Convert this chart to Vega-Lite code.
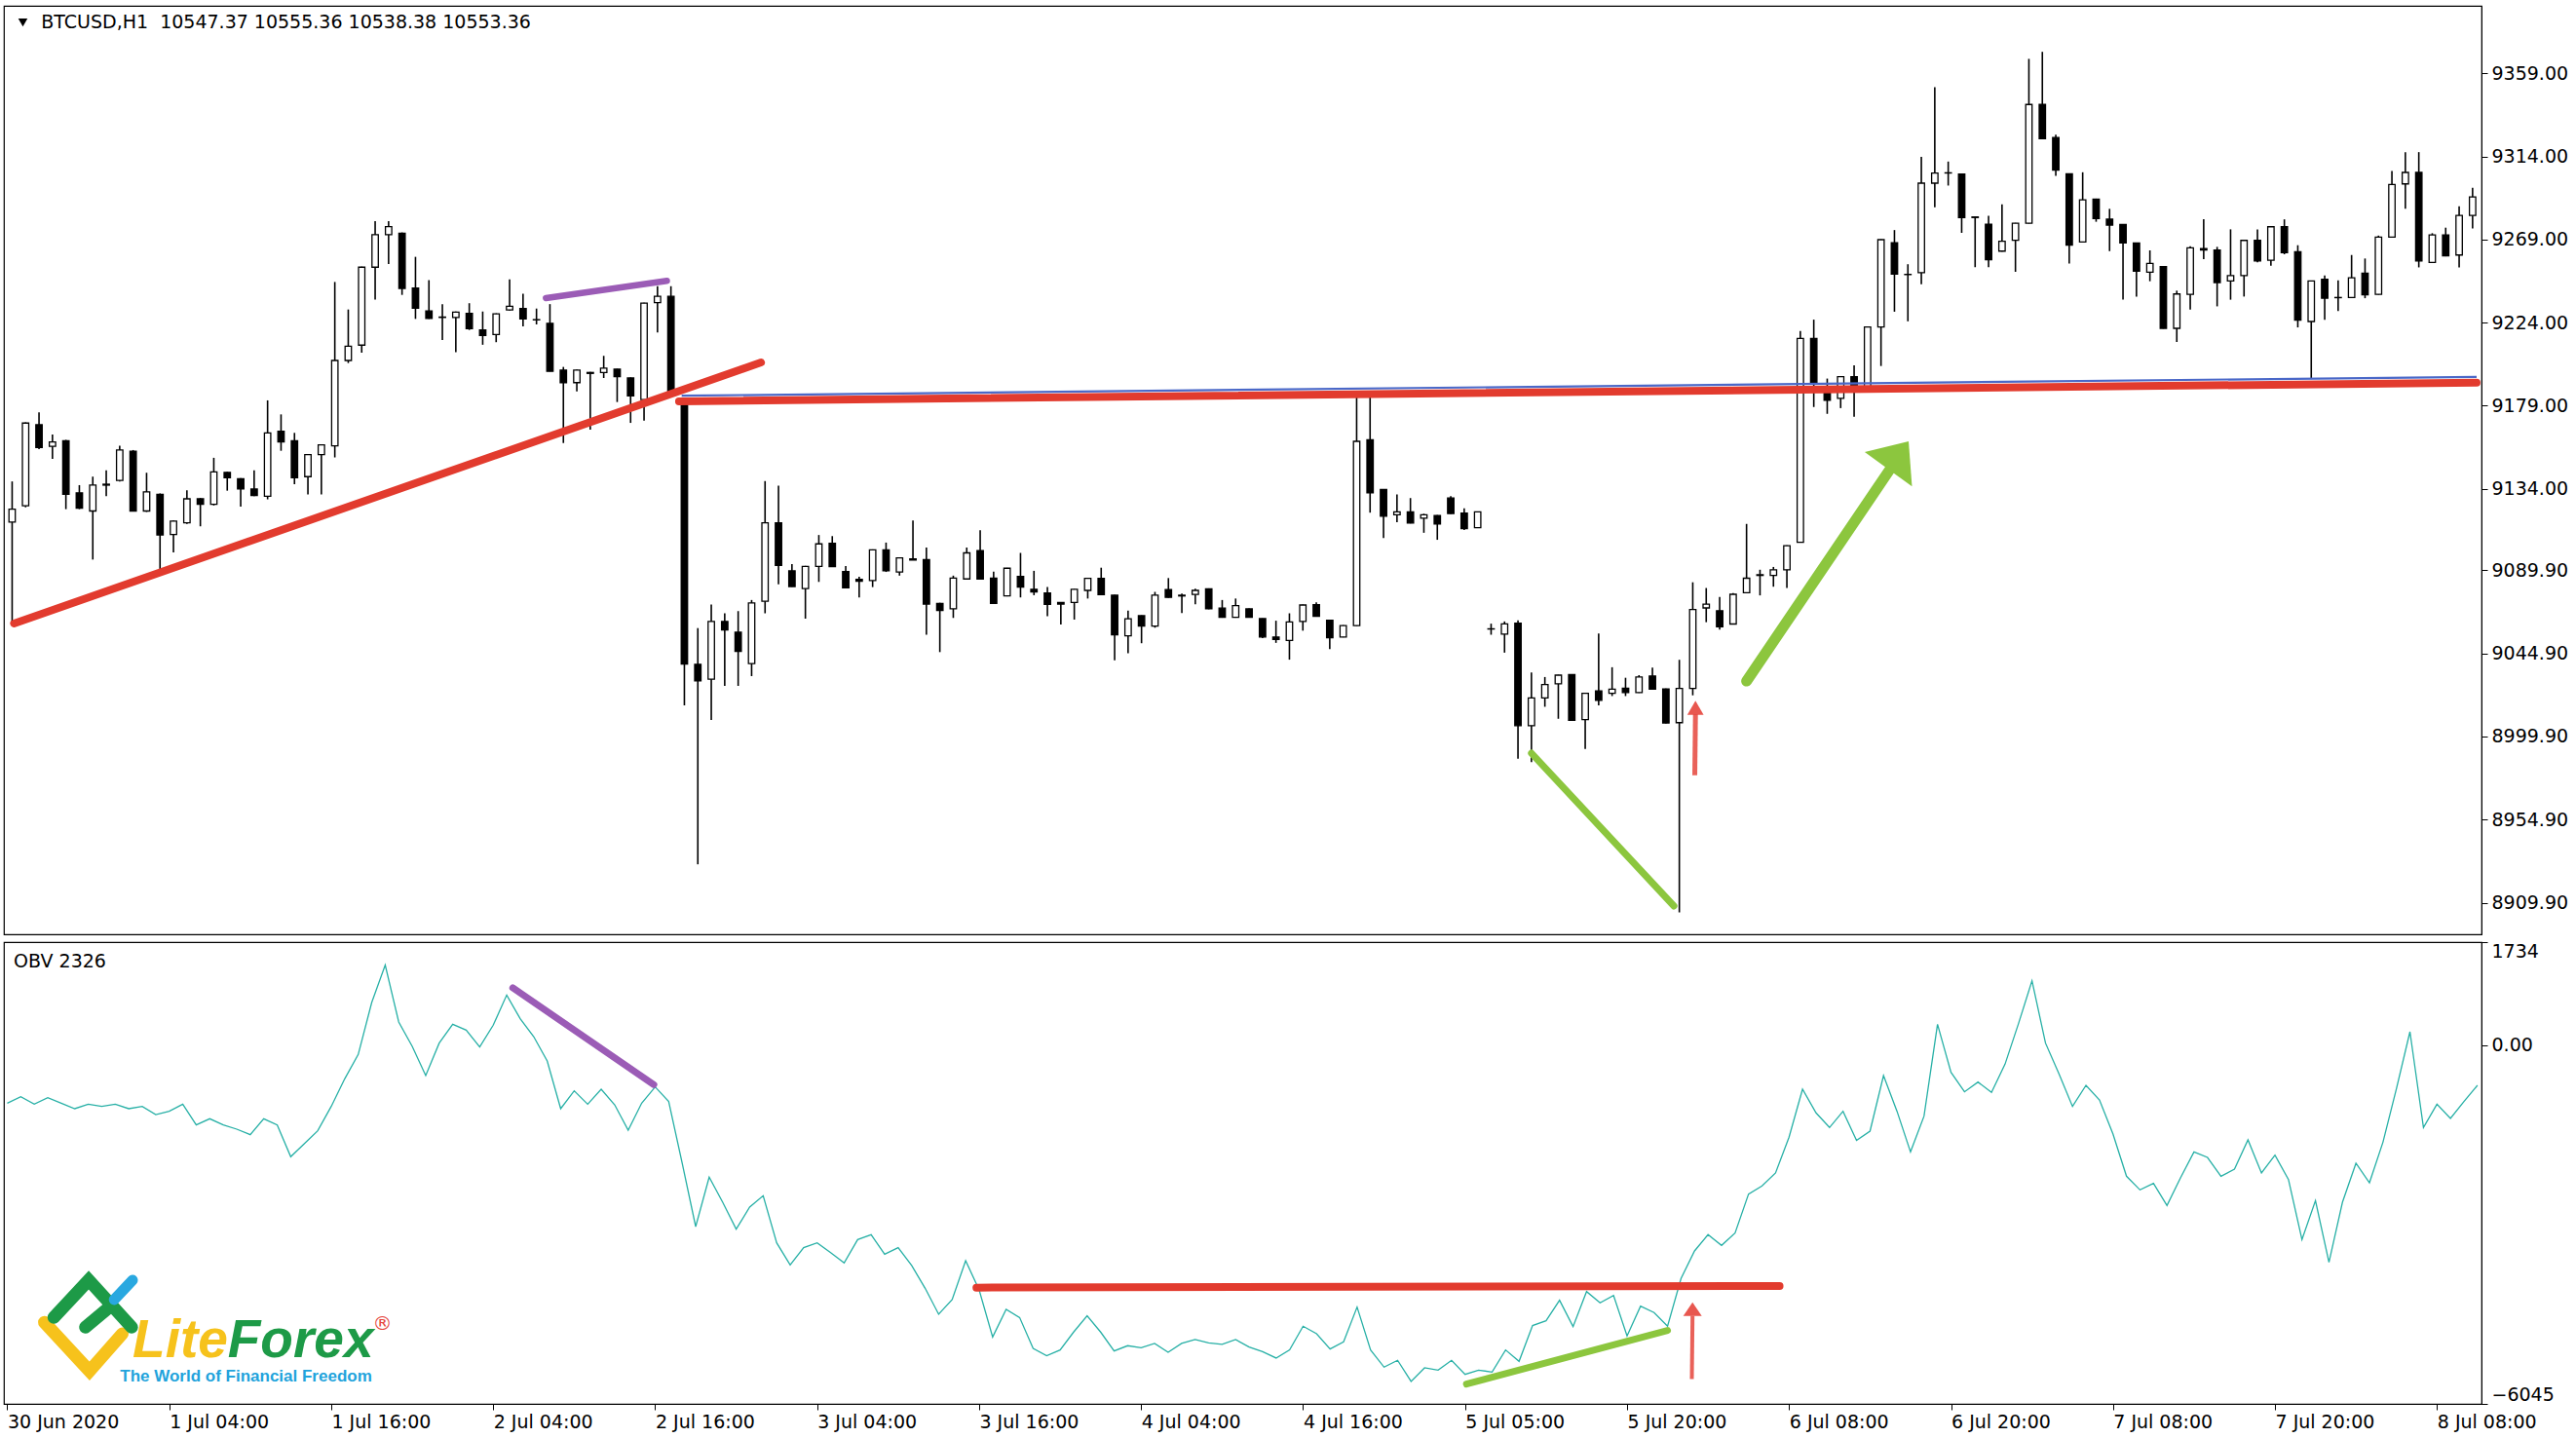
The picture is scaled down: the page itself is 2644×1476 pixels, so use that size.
{
  "$schema": "https://vega.github.io/schema/vega-lite/v6.json",
  "background": "#ffffff",
  "padding": {"left": 3, "top": 5, "right": 0, "bottom": 0},
  "spacing": 5,
  "config": {
    "view": {"stroke": "#000", "strokeWidth": 1.2},
    "axis": {"labelFont": "DejaVu Sans", "labelFontSize": 19, "labelColor": "#000", "domainColor": "#000", "tickColor": "#000", "grid": false},
    "text": {"font": "DejaVu Sans"}
  },
  "datasets": {
    "bars": [
      {"i":0,"o":9116,"h":9138,"l":9060,"c":9123,"v":-979},
      {"i":1,"o":9124.8,"h":9170,"l":9124,"c":9169.6,"v":-870},
      {"i":2,"o":9168.7,"h":9175.4,"l":9155.5,"c":9156.4,"v":-996},
      {"i":3,"o":9157,"h":9163.4,"l":9150.2,"c":9159.4,"v":-886},
      {"i":4,"o":9160,"h":9160.5,"l":9123,"c":9131,"v":-979},
      {"i":5,"o":9131.8,"h":9136,"l":9123,"c":9123.5,"v":-1072},
      {"i":6,"o":9122,"h":9140.6,"l":9095.7,"c":9136,"v":-996},
      {"i":7,"o":9136,"h":9144,"l":9130,"c":9136.5,"v":-1034},
      {"i":8,"o":9138.5,"h":9157.3,"l":9138,"c":9155,"v":-996},
      {"i":9,"o":9154.3,"h":9155,"l":9122,"c":9122,"v":-1072},
      {"i":10,"o":9122,"h":9142.7,"l":9121.5,"c":9132.3,"v":-1034},
      {"i":11,"o":9131,"h":9131.5,"l":9090.5,"c":9109,"v":-1171},
      {"i":12,"o":9109.3,"h":9116.8,"l":9099.6,"c":9116.5,"v":-1116},
      {"i":13,"o":9115.6,"h":9133.2,"l":9115,"c":9128.6,"v":-996},
      {"i":14,"o":9128.6,"h":9129,"l":9113.7,"c":9125.6,"v":-1346},
      {"i":15,"o":9125.6,"h":9150.8,"l":9125,"c":9143.2,"v":-1242},
      {"i":16,"o":9142.9,"h":9143.2,"l":9133,"c":9140,"v":-1346},
      {"i":17,"o":9139.4,"h":9139.8,"l":9124.4,"c":9133.9,"v":-1417},
      {"i":18,"o":9133.9,"h":9144,"l":9130,"c":9130.4,"v":-1510},
      {"i":19,"o":9130,"h":9181.9,"l":9128.3,"c":9164.3,"v":-1242},
      {"i":20,"o":9165.2,"h":9174.3,"l":9154.6,"c":9159.4,"v":-1346},
      {"i":21,"o":9160,"h":9164.3,"l":9136.5,"c":9140,"v":-1882},
      {"i":22,"o":9140.6,"h":9152.8,"l":9131,"c":9152.5,"v":-1663},
      {"i":23,"o":9152.5,"h":9158,"l":9131,"c":9157.8,"v":-1444},
      {"i":24,"o":9157.3,"h":9246,"l":9151,"c":9203.5,"v":-1034},
      {"i":25,"o":9203.5,"h":9231.1,"l":9202.1,"c":9211.2,"v":-569},
      {"i":26,"o":9211.8,"h":9254.3,"l":9207.7,"c":9254,"v":-159},
      {"i":27,"o":9254,"h":9278.9,"l":9236.4,"c":9271.6,"v":717},
      {"i":28,"o":9271.6,"h":9278.9,"l":9255.7,"c":9276,"v":1346},
      {"i":29,"o":9272.4,"h":9272.8,"l":9239,"c":9242.5,"v":388},
      {"i":30,"o":9242.7,"h":9259.6,"l":9226,"c":9231.8,"v":-22},
      {"i":31,"o":9230.3,"h":9247,"l":9226,"c":9226.2,"v":-514},
      {"i":32,"o":9227,"h":9234,"l":9214.6,"c":9226.8,"v":33},
      {"i":33,"o":9226.8,"h":9230,"l":9208,"c":9229.7,"v":350},
      {"i":34,"o":9229,"h":9234.5,"l":9220,"c":9220.7,"v":252},
      {"i":35,"o":9220,"h":9230,"l":9212,"c":9217,"v":-33},
      {"i":36,"o":9217.5,"h":9229,"l":9213.4,"c":9228.7,"v":334},
      {"i":37,"o":9230.9,"h":9247.4,"l":9230.5,"c":9232.8,"v":842},
      {"i":38,"o":9231.6,"h":9239.6,"l":9222,"c":9226,"v":443},
      {"i":39,"o":9225.6,"h":9231.6,"l":9223,"c":9225.5,"v":142},
      {"i":40,"o":9223.6,"h":9234,"l":9197.6,"c":9197.6,"v":-268},
      {"i":41,"o":9198.3,"h":9200,"l":9158.8,"c":9191.5,"v":-1072},
      {"i":42,"o":9191.5,"h":9198.6,"l":9186.7,"c":9198.3,"v":-771},
      {"i":43,"o":9197,"h":9197.3,"l":9166.1,"c":9196.5,"v":-996},
      {"i":44,"o":9197,"h":9206,"l":9194,"c":9199.3,"v":-744},
      {"i":45,"o":9198.8,"h":9199,"l":9181,"c":9194.7,"v":-1007},
      {"i":46,"o":9194,"h":9194.3,"l":9169.7,"c":9184.3,"v":-1433},
      {"i":47,"o":9182.3,"h":9234.7,"l":9170.9,"c":9234.5,"v":-979},
      {"i":48,"o":9234.8,"h":9243.7,"l":9218.7,"c":9238.2,"v":-706},
      {"i":49,"o":9238.2,"h":9243.7,"l":9185.5,"c":9185.5,"v":-952},
      {"i":50,"o":9179.4,"h":9179.6,"l":9016.8,"c":9039.1,"v":-1991},
      {"i":51,"o":9039,"h":9058.6,"l":8930.7,"c":9030,"v":-3058},
      {"i":52,"o":9030.9,"h":9071.4,"l":9008.8,"c":9062.2,"v":-2226},
      {"i":53,"o":9062.2,"h":9066.6,"l":9027.3,"c":9057.6,"v":-2648},
      {"i":54,"o":9056.4,"h":9067.8,"l":9027.3,"c":9046,"v":-3101},
      {"i":55,"o":9039.4,"h":9073.8,"l":9032.6,"c":9072.2,"v":-2730},
      {"i":56,"o":9073.1,"h":9138.2,"l":9066.6,"c":9115.6,"v":-2538},
      {"i":57,"o":9115.6,"h":9135.7,"l":9082.3,"c":9092.5,"v":-3331},
      {"i":58,"o":9089.6,"h":9093.3,"l":9081,"c":9081.1,"v":-3703},
      {"i":59,"o":9080,"h":9092.3,"l":9063.7,"c":9092,"v":-3413},
      {"i":60,"o":9092,"h":9109,"l":9083.6,"c":9104.2,"v":-3331},
      {"i":61,"o":9104.5,"h":9108.4,"l":9091.8,"c":9091.9,"v":-3496},
      {"i":62,"o":9089.2,"h":9092.2,"l":9080.4,"c":9080.4,"v":-3670},
      {"i":63,"o":9085,"h":9086.4,"l":9075.2,"c":9084,"v":-3277},
      {"i":64,"o":9084.3,"h":9101.2,"l":9080.8,"c":9101,"v":-3195},
      {"i":65,"o":9101,"h":9104.9,"l":9089,"c":9089.6,"v":-3523},
      {"i":66,"o":9089,"h":9096.8,"l":9087,"c":9096.6,"v":-3413},
      {"i":67,"o":9096.1,"h":9116.8,"l":9095.4,"c":9095.4,"v":-3714},
      {"i":68,"o":9095.7,"h":9102.2,"l":9055,"c":9071.6,"v":-4097},
      {"i":69,"o":9072,"h":9072.3,"l":9045.6,"c":9068.1,"v":-4535},
      {"i":70,"o":9069,"h":9087,"l":9064.1,"c":9085.7,"v":-4289},
      {"i":71,"o":9085.2,"h":9102.2,"l":9085,"c":9099.3,"v":-3632},
      {"i":72,"o":9100.5,"h":9111.6,"l":9085,"c":9085.2,"v":-4125},
      {"i":73,"o":9085.7,"h":9089.2,"l":9071.6,"c":9072,"v":-4918},
      {"i":74,"o":9076,"h":9091.2,"l":9075.8,"c":9091,"v":-4453},
      {"i":75,"o":9086.6,"h":9099.3,"l":9075.2,"c":9080.8,"v":-4590},
      {"i":76,"o":9079.6,"h":9089.6,"l":9076.4,"c":9078.2,"v":-5109},
      {"i":77,"o":9077.6,"h":9080.8,"l":9065,"c":9071.5,"v":-5235},
      {"i":78,"o":9072.5,"h":9072.7,"l":9060.6,"c":9071.6,"v":-5136},
      {"i":79,"o":9072.5,"h":9079.8,"l":9063.2,"c":9079.6,"v":-4835},
      {"i":80,"o":9079,"h":9085.7,"l":9074.6,"c":9085.5,"v":-4562},
      {"i":81,"o":9085.5,"h":9091.3,"l":9076.5,"c":9076.7,"v":-4835},
      {"i":82,"o":9076.4,"h":9076.6,"l":9041.2,"c":9055,"v":-5153},
      {"i":83,"o":9054.4,"h":9068,"l":9045,"c":9063.6,"v":-5065},
      {"i":84,"o":9065.3,"h":9065.5,"l":9050.4,"c":9059.7,"v":-5098},
      {"i":85,"o":9059.7,"h":9078.2,"l":9058.8,"c":9076.4,"v":-5027},
      {"i":86,"o":9079.4,"h":9085.7,"l":9075,"c":9075.2,"v":-5175},
      {"i":87,"o":9076.4,"h":9077.3,"l":9066.7,"c":9076,"v":-5027},
      {"i":88,"o":9076.8,"h":9079.9,"l":9071.5,"c":9079,"v":-4961},
      {"i":89,"o":9079.9,"h":9080.1,"l":9068.8,"c":9069,"v":-5016},
      {"i":90,"o":9069.4,"h":9073.8,"l":9064.2,"c":9064.4,"v":-5043},
      {"i":91,"o":9064.4,"h":9074.6,"l":9064.2,"c":9070.8,"v":-4961},
      {"i":92,"o":9069,"h":9069.2,"l":9064.2,"c":9064.4,"v":-5087},
      {"i":93,"o":9063.7,"h":9063.9,"l":9053.2,"c":9053.8,"v":-5164},
      {"i":94,"o":9053.8,"h":9062.6,"l":9050.6,"c":9052.4,"v":-5273},
      {"i":95,"o":9051.9,"h":9066.6,"l":9041.5,"c":9061.9,"v":-5136},
      {"i":96,"o":9062.2,"h":9071.3,"l":9057.2,"c":9071.1,"v":-4737},
      {"i":97,"o":9071.3,"h":9072.6,"l":9064.7,"c":9065,"v":-4863},
      {"i":98,"o":9062.8,"h":9063,"l":9047.2,"c":9053.4,"v":-5120},
      {"i":99,"o":9053.8,"h":9060.2,"l":9053.6,"c":9060,"v":-5000},
      {"i":100,"o":9060,"h":9183.6,"l":9059.8,"c":9159.7,"v":-4414},
      {"i":101,"o":9160.6,"h":9183.6,"l":9121.1,"c":9131.8,"v":-5136},
      {"i":102,"o":9133.7,"h":9133.9,"l":9107.4,"c":9119.2,"v":-5426},
      {"i":103,"o":9120,"h":9130.9,"l":9115.9,"c":9121.5,"v":-5311},
      {"i":104,"o":9121.5,"h":9129,"l":9115.3,"c":9115.5,"v":-5667},
      {"i":105,"o":9118.1,"h":9120.5,"l":9110.2,"c":9120,"v":-5437},
      {"i":106,"o":9119.6,"h":9119.8,"l":9106.4,"c":9114.9,"v":-5476},
      {"i":107,"o":9129,"h":9130,"l":9120.4,"c":9120.6,"v":-5311},
      {"i":108,"o":9120.9,"h":9123.4,"l":9111.7,"c":9112.5,"v":-5547},
      {"i":109,"o":9113,"h":9121.7,"l":9112.8,"c":9121.5,"v":-5476},
      {"i":110,"o":9058.1,"h":9061,"l":9055,"c":9058.2,"v":-5508},
      {"i":111,"o":9055.3,"h":9062.2,"l":9045.3,"c":9060.9,"v":-5136},
      {"i":112,"o":9061.3,"h":9062.8,"l":8987.9,"c":9005.8,"v":-5328},
      {"i":113,"o":9005.8,"h":9034.6,"l":8986,"c":9020.8,"v":-4726},
      {"i":114,"o":9020.8,"h":9032.1,"l":9016,"c":9028,"v":-4644},
      {"i":115,"o":9028.4,"h":9033.3,"l":9009.5,"c":9033.1,"v":-4299},
      {"i":116,"o":9033.4,"h":9033.6,"l":9008.4,"c":9008.6,"v":-4743},
      {"i":117,"o":9009,"h":9023.5,"l":8993.2,"c":9023.3,"v":-4152},
      {"i":118,"o":9024.6,"h":9055.6,"l":9016.7,"c":9019.5,"v":-4343},
      {"i":119,"o":9023.3,"h":9037.4,"l":9021.8,"c":9025.5,"v":-4218},
      {"i":120,"o":9026.1,"h":9031.7,"l":9021.8,"c":9023.7,"v":-4901},
      {"i":121,"o":9023.7,"h":9033.1,"l":9023.5,"c":9032.1,"v":-4398},
      {"i":122,"o":9032.7,"h":9037.2,"l":9025.3,"c":9025.5,"v":-4507},
      {"i":123,"o":9025.7,"h":9025.9,"l":9007,"c":9007.2,"v":-4737},
      {"i":124,"o":9007.4,"h":9041.4,"l":8904.7,"c":9025.9,"v":-3933},
      {"i":125,"o":9025.9,"h":9083.4,"l":9022.2,"c":9068.6,"v":-3468},
      {"i":126,"o":9069.5,"h":9080.3,"l":9061.8,"c":9071.6,"v":-3194},
      {"i":127,"o":9068,"h":9075.4,"l":9057.8,"c":9059.3,"v":-3375},
      {"i":128,"o":9060.8,"h":9077.5,"l":9060.6,"c":9076.9,"v":-3167},
      {"i":129,"o":9077.8,"h":9115,"l":9077.6,"c":9085.6,"v":-2511},
      {"i":130,"o":9087.1,"h":9090.2,"l":9076.3,"c":9087.5,"v":-2374},
      {"i":131,"o":9087.1,"h":9091.7,"l":9081,"c":9090.2,"v":-2155},
      {"i":132,"o":9090.2,"h":9103.4,"l":9080.3,"c":9103.2,"v":-1553},
      {"i":133,"o":9105,"h":9219.4,"l":9104.8,"c":9215.4,"v":-744},
      {"i":134,"o":9215.4,"h":9225.6,"l":9178.3,"c":9191.6,"v":-1143},
      {"i":135,"o":9187,"h":9193.7,"l":9174.6,"c":9182,"v":-1389},
      {"i":136,"o":9183,"h":9194.9,"l":9177.7,"c":9194.7,"v":-1116},
      {"i":137,"o":9194.7,"h":9200.9,"l":9173,"c":9189.1,"v":-1608},
      {"i":138,"o":9189.1,"h":9221.8,"l":9188.9,"c":9221.6,"v":-1450},
      {"i":139,"o":9221.6,"h":9269.1,"l":9200.5,"c":9268.9,"v":-514},
      {"i":140,"o":9267.3,"h":9274.1,"l":9229.9,"c":9250.3,"v":-1116},
      {"i":141,"o":9250.1,"h":9255.6,"l":9224.7,"c":9250,"v":-1800},
      {"i":142,"o":9251,"h":9313.7,"l":9244.8,"c":9299.5,"v":-1198},
      {"i":143,"o":9299.5,"h":9351.4,"l":9286.5,"c":9305,"v":350},
      {"i":144,"o":9305,"h":9311.2,"l":9298.2,"c":9305.1,"v":-460},
      {"i":145,"o":9304.4,"h":9304.6,"l":9272.6,"c":9280.9,"v":-788},
      {"i":146,"o":9281.2,"h":9281.4,"l":9254,"c":9280.9,"v":-624},
      {"i":147,"o":9277.2,"h":9281.8,"l":9254,"c":9258,"v":-799},
      {"i":148,"o":9262.7,"h":9288,"l":9262.5,"c":9268,"v":-323},
      {"i":149,"o":9268.6,"h":9278,"l":9251.5,"c":9277.8,"v":361},
      {"i":150,"o":9277.8,"h":9366.8,"l":9277.6,"c":9342.1,"v":1083},
      {"i":151,"o":9342.1,"h":9370.6,"l":9323.4,"c":9323.6,"v":33},
      {"i":152,"o":9324.2,"h":9325.7,"l":9303.5,"c":9306.6,"v":-487},
      {"i":153,"o":9304.5,"h":9304.7,"l":9256,"c":9265.9,"v":-1034},
      {"i":154,"o":9267.7,"h":9305.4,"l":9267.5,"c":9290.5,"v":-678},
      {"i":155,"o":9290.9,"h":9291.1,"l":9278.6,"c":9280.3,"v":-925},
      {"i":156,"o":9280,"h":9285.6,"l":9262.7,"c":9276.8,"v":-1499},
      {"i":157,"o":9277.1,"h":9277.3,"l":9236.4,"c":9267.1,"v":-2210},
      {"i":158,"o":9267.1,"h":9267.3,"l":9238.1,"c":9251.8,"v":-2440},
      {"i":159,"o":9251.3,"h":9263.1,"l":9246.4,"c":9256,"v":-2330},
      {"i":160,"o":9254.3,"h":9254.5,"l":9220.7,"c":9220.9,"v":-2702},
      {"i":161,"o":9220.9,"h":9241.3,"l":9213.5,"c":9239.5,"v":-2237},
      {"i":162,"o":9239.3,"h":9265.4,"l":9231.1,"c":9264.5,"v":-1800},
      {"i":163,"o":9264.1,"h":9280,"l":9258.3,"c":9263.3,"v":-1893},
      {"i":164,"o":9263.3,"h":9265,"l":9232.8,"c":9245.7,"v":-2210},
      {"i":165,"o":9246.6,"h":9274.5,"l":9236.4,"c":9249.5,"v":-2090},
      {"i":166,"o":9249.5,"h":9268.7,"l":9238.1,"c":9268.5,"v":-1597},
      {"i":167,"o":9268.5,"h":9274.5,"l":9256.6,"c":9257.4,"v":-2155},
      {"i":168,"o":9257.8,"h":9276.1,"l":9254.8,"c":9275.9,"v":-1854},
      {"i":169,"o":9275.9,"h":9279.9,"l":9261,"c":9261.8,"v":-2265},
      {"i":170,"o":9262.4,"h":9265.9,"l":9221.4,"c":9225.3,"v":-3277},
      {"i":171,"o":9224.6,"h":9246.7,"l":9193.8,"c":9246.5,"v":-2620},
      {"i":172,"o":9247.4,"h":9249.5,"l":9225.5,"c":9237.2,"v":-3660},
      {"i":173,"o":9237.6,"h":9246.9,"l":9230.2,"c":9237.5,"v":-2648},
      {"i":174,"o":9237.6,"h":9260.6,"l":9237.4,"c":9248.3,"v":-1991},
      {"i":175,"o":9250.8,"h":9258.7,"l":9237.2,"c":9239,"v":-2320},
      {"i":176,"o":9239.3,"h":9271.1,"l":9239.1,"c":9270.3,"v":-1636},
      {"i":177,"o":9270.3,"h":9306.1,"l":9270.1,"c":9298.8,"v":-733},
      {"i":178,"o":9299.1,"h":9316.3,"l":9285.6,"c":9305.3,"v":224},
      {"i":179,"o":9305.3,"h":9316.3,"l":9253.9,"c":9257.4,"v":-1389},
      {"i":180,"o":9256.6,"h":9272.4,"l":9256.4,"c":9271.5,"v":-996},
      {"i":181,"o":9271.5,"h":9275.4,"l":9259.9,"c":9260.1,"v":-1236},
      {"i":182,"o":9260.6,"h":9287,"l":9253.9,"c":9282,"v":-952},
      {"i":183,"o":9282,"h":9297,"l":9275,"c":9292,"v":-678}
    ]
  },
  "vconcat": [
    {
      "width": 2543,
      "height": 953,
      "encoding": {
        "x": {"type": "quantitative", "scale": {"domain": [-0.25, 183.3], "nice": false, "zero": false}, "axis": null},
        "y": {"type": "quantitative", "scale": {"domain": [8892.8, 9395.5], "nice": false, "zero": false},
          "axis": {"orient": "right", "title": null, "values": [9359, 9314, 9269, 9224, 9179, 9134, 9089.9, 9044.9, 8999.9, 8954.9, 8909.9], "format": ".2f", "tickSize": 6, "labelPadding": 4, "labelFlush": false}}
      },
      "layer": [
        {
          "data": {"name": "bars"},
          "mark": {"type": "rule", "color": "#000", "strokeWidth": 1.6, "clip": true},
          "encoding": {
            "x": {"field": "i", "type": "quantitative"},
            "y": {"field": "l", "type": "quantitative"},
            "y2": {"field": "h"}
          }
        },
        {
          "data": {"name": "bars"},
          "mark": {"type": "bar", "width": 6.5, "stroke": "#000", "strokeWidth": 1.3, "clip": true},
          "encoding": {
            "x": {"field": "i", "type": "quantitative"},
            "y": {"field": "o", "type": "quantitative"},
            "y2": {"field": "c"},
            "fill": {"condition": {"test": "datum.c >= datum.o", "value": "#ffffff"}, "value": "#000000"}
          }
        },
        {
          "data": {"values": [{"x1": 49.8, "y1": 9184.4, "x2": 183.3, "y2": 9194.6}]},
          "mark": {"type": "rule", "color": "#4a68c8", "strokeWidth": 2.2},
          "encoding": {
            "x": {"field": "x1", "type": "quantitative"}, "x2": {"field": "x2"},
            "y": {"field": "y1", "type": "quantitative"}, "y2": {"field": "y2"}
          }
        },
        {
          "data": {"values": [{"x1": 0.14, "y1": 9061.1, "x2": 55.7, "y2": 9202.4}, {"x1": 49.6, "y1": 9181.4, "x2": 183.3, "y2": 9191.5}]},
          "mark": {"type": "rule", "color": "#e23b2e", "strokeWidth": 8, "strokeCap": "round"},
          "encoding": {
            "x": {"field": "x1", "type": "quantitative"}, "x2": {"field": "x2"},
            "y": {"field": "y1", "type": "quantitative"}, "y2": {"field": "y2"}
          }
        },
        {
          "data": {"values": [{"x1": 39.7, "y1": 9237.3, "x2": 48.7, "y2": 9246.6}]},
          "mark": {"type": "rule", "color": "#9b5cb6", "strokeWidth": 6.5, "strokeCap": "round"},
          "encoding": {
            "x": {"field": "x1", "type": "quantitative"}, "x2": {"field": "x2"},
            "y": {"field": "y1", "type": "quantitative"}, "y2": {"field": "y2"}
          }
        },
        {
          "data": {"values": [{"x1": 113.0, "y1": 8990.9, "x2": 123.6, "y2": 8908.1}]},
          "mark": {"type": "rule", "color": "#8cc63e", "strokeWidth": 7, "strokeCap": "round"},
          "encoding": {
            "x": {"field": "x1", "type": "quantitative"}, "x2": {"field": "x2"},
            "y": {"field": "y1", "type": "quantitative"}, "y2": {"field": "y2"}
          }
        },
        {
          "data": {"values": [{"x1": 129.0, "y1": 9029.9, "x2": 139.8, "y2": 9146.0}]},
          "mark": {"type": "rule", "color": "#8cc63e", "strokeWidth": 11, "strokeCap": "round"},
          "encoding": {
            "x": {"field": "x1", "type": "quantitative"}, "x2": {"field": "x2"},
            "y": {"field": "y1", "type": "quantitative"}, "y2": {"field": "y2"}
          }
        },
        {
          "data": {"values": [{"i": 140.3, "p": 9152.2}]},
          "mark": {"type": "point", "shape": "M-1,0.59L0,-0.59L1,0.59Z", "filled": true, "color": "#8cc63e", "opacity": 1, "size": 3600, "angle": 36},
          "encoding": {
            "x": {"field": "i", "type": "quantitative"},
            "y": {"field": "p", "type": "quantitative"}
          }
        },
        {
          "data": {"values": [{"x1": 125.15, "y1": 8978.9, "x2": 125.2, "y2": 9012}]},
          "mark": {"type": "rule", "color": "#e5453c", "strokeWidth": 5, "opacity": 0.85},
          "encoding": {
            "x": {"field": "x1", "type": "quantitative"}, "x2": {"field": "x2"},
            "y": {"field": "y1", "type": "quantitative"}, "y2": {"field": "y2"}
          }
        },
        {
          "data": {"values": [{"i": 125.2, "p": 9015.4}]},
          "mark": {"type": "point", "shape": "M-1,0.87L0,-0.87L1,0.87Z", "filled": true, "color": "#e5453c", "opacity": 0.9, "size": 280},
          "encoding": {
            "x": {"field": "i", "type": "quantitative"},
            "y": {"field": "p", "type": "quantitative"}
          }
        },
        {
          "data": {"values": [{"i": 0.8, "p": 9386.5}]},
          "mark": {"type": "point", "shape": "triangle-down", "filled": true, "color": "#000", "opacity": 1, "size": 90},
          "encoding": {
            "x": {"field": "i", "type": "quantitative"},
            "y": {"field": "p", "type": "quantitative"}
          }
        },
        {
          "data": {"values": [{"i": 2.16, "p": 9386.5, "t": "BTCUSD,H1\u00a0 10547.37 10555.36 10538.38 10553.36"}]},
          "mark": {"type": "text", "align": "left", "baseline": "middle", "fontSize": 19, "font": "DejaVu Sans", "color": "#000"},
          "encoding": {
            "x": {"field": "i", "type": "quantitative"},
            "y": {"field": "p", "type": "quantitative"},
            "text": {"field": "t"}
          }
        }
      ]
    },
    {
      "width": 2543,
      "height": 474,
      "encoding": {
        "x": {"type": "quantitative", "scale": {"domain": [-0.25, 183.3], "nice": false, "zero": false},
          "axis": {"orient": "bottom", "title": null, "values": [0, 12, 24, 36, 48, 60, 72, 84, 96, 108, 120, 132, 144, 156, 168, 180],
            "labelExpr": "['30 Jun 2020','1 Jul 04:00','1 Jul 16:00','2 Jul 04:00','2 Jul 16:00','3 Jul 04:00','3 Jul 16:00','4 Jul 04:00','4 Jul 16:00','5 Jul 05:00','5 Jul 20:00','6 Jul 08:00','6 Jul 20:00','7 Jul 08:00','7 Jul 20:00','8 Jul 08:00'][round(datum.value/12)]",
            "labelAlign": "left", "labelFlush": false, "labelOverlap": false, "labelBound": false, "tickSize": 6, "labelPadding": 3}},
        "y": {"type": "quantitative", "scale": {"domain": [-6045, 1734], "nice": false, "zero": false},
          "axis": {"orient": "right", "title": null, "values": [1734, 0, -6045], "labelExpr": "datum.value == 0 ? '0.00' : format(datum.value, 'd')", "labelFlush": true, "tickSize": 6, "labelPadding": 4}}
      },
      "layer": [
        {
          "data": {"name": "bars"},
          "mark": {"type": "line", "color": "#27b0a6", "strokeWidth": 1.3, "clip": true},
          "encoding": {
            "x": {"field": "i", "type": "quantitative"},
            "y": {"field": "v", "type": "quantitative"}
          }
        },
        {
          "data": {"values": [{"x1": 37.45, "y1": 963, "x2": 47.9, "y2": -667}]},
          "mark": {"type": "rule", "color": "#9b5cb6", "strokeWidth": 7, "strokeCap": "round"},
          "encoding": {
            "x": {"field": "x1", "type": "quantitative"}, "x2": {"field": "x2"},
            "y": {"field": "y1", "type": "quantitative"}, "y2": {"field": "y2"}
          }
        },
        {
          "data": {"values": [{"x1": 71.8, "y1": -4086, "x2": 131.3, "y2": -4059}]},
          "mark": {"type": "rule", "color": "#e23b2e", "strokeWidth": 8, "strokeCap": "round"},
          "encoding": {
            "x": {"field": "x1", "type": "quantitative"}, "x2": {"field": "x2"},
            "y": {"field": "y1", "type": "quantitative"}, "y2": {"field": "y2"}
          }
        },
        {
          "data": {"values": [{"x1": 108.1, "y1": -5711, "x2": 123.0, "y2": -4808}]},
          "mark": {"type": "rule", "color": "#8cc63e", "strokeWidth": 7, "strokeCap": "round"},
          "encoding": {
            "x": {"field": "x1", "type": "quantitative"}, "x2": {"field": "x2"},
            "y": {"field": "y1", "type": "quantitative"}, "y2": {"field": "y2"}
          }
        },
        {
          "data": {"values": [{"x1": 124.8, "y1": -5628, "x2": 124.85, "y2": -4562}]},
          "mark": {"type": "rule", "color": "#e5453c", "strokeWidth": 4, "opacity": 0.85},
          "encoding": {
            "x": {"field": "x1", "type": "quantitative"}, "x2": {"field": "x2"},
            "y": {"field": "y1", "type": "quantitative"}, "y2": {"field": "y2"}
          }
        },
        {
          "data": {"values": [{"i": 124.85, "v": -4448}]},
          "mark": {"type": "point", "shape": "M-1,0.74L0,-0.74L1,0.74Z", "filled": true, "color": "#e5453c", "opacity": 0.9, "size": 361},
          "encoding": {
            "x": {"field": "i", "type": "quantitative"},
            "y": {"field": "v", "type": "quantitative"}
          }
        },
        {
          "data": {"values": [{"g": 1, "k": 0, "i": 2.75, "v": -4671}, {"g": 1, "k": 1, "i": 6.09, "v": -5491}, {"g": 1, "k": 2, "i": 8.52, "v": -4863}]},
          "mark": {"type": "line", "color": "#f6c21c", "strokeWidth": 13, "strokeCap": "round", "strokeJoin": "miter"},
          "encoding": {
            "x": {"field": "i", "type": "quantitative"},
            "y": {"field": "v", "type": "quantitative"},
            "detail": {"field": "g"}, "order": {"field": "k"}
          }
        },
        {
          "data": {"values": [{"g": 1, "k": 0, "i": 3.45, "v": -4589}, {"g": 1, "k": 1, "i": 6.03, "v": -3960}, {"g": 1, "k": 2, "i": 9.22, "v": -4753}, {"g": 2, "k": 0, "i": 5.79, "v": -4753}, {"g": 2, "k": 1, "i": 7.52, "v": -4425}]},
          "mark": {"type": "line", "color": "#1d9a47", "strokeWidth": 13, "strokeCap": "round", "strokeJoin": "miter"},
          "encoding": {
            "x": {"field": "i", "type": "quantitative"},
            "y": {"field": "v", "type": "quantitative"},
            "detail": {"field": "g"}, "order": {"field": "k"}
          }
        },
        {
          "data": {"values": [{"g": 1, "k": 0, "i": 7.92, "v": -4288}, {"g": 1, "k": 1, "i": 9.28, "v": -3960}]},
          "mark": {"type": "line", "color": "#29a8e0", "strokeWidth": 11, "strokeCap": "round"},
          "encoding": {
            "x": {"field": "i", "type": "quantitative"},
            "y": {"field": "v", "type": "quantitative"},
            "detail": {"field": "g"}, "order": {"field": "k"}
          }
        },
        {
          "data": {"values": [{"i": 0.48, "v": 1410, "t": "OBV 2326"}]},
          "mark": {"type": "text", "align": "left", "baseline": "middle", "fontSize": 19, "font": "DejaVu Sans", "color": "#000"},
          "encoding": {
            "x": {"field": "i", "type": "quantitative"},
            "y": {"field": "v", "type": "quantitative"},
            "text": {"field": "t"}
          }
        },
        {
          "data": {"values": [{"i": 9.28, "v": -5250, "t": "Lite"}]},
          "mark": {"type": "text", "align": "left", "baseline": "alphabetic", "fontSize": 55, "font": "Liberation Sans", "fontWeight": "bold", "fontStyle": "italic", "color": "#f6c21c"},
          "encoding": {
            "x": {"field": "i", "type": "quantitative"},
            "y": {"field": "v", "type": "quantitative"},
            "text": {"field": "t"}
          }
        },
        {
          "data": {"values": [{"i": 16.33, "v": -5250, "t": "Forex"}]},
          "mark": {"type": "text", "align": "left", "baseline": "alphabetic", "fontSize": 55, "font": "Liberation Sans", "fontWeight": "bold", "fontStyle": "italic", "color": "#1d9a47"},
          "encoding": {
            "x": {"field": "i", "type": "quantitative"},
            "y": {"field": "v", "type": "quantitative"},
            "text": {"field": "t"}
          }
        },
        {
          "data": {"values": [{"i": 27.8, "v": -4700, "t": "®"}]},
          "mark": {"type": "text", "align": "center", "baseline": "middle", "fontSize": 20, "font": "DejaVu Sans", "color": "#e5453c"},
          "encoding": {
            "x": {"field": "i", "type": "quantitative"},
            "y": {"field": "v", "type": "quantitative"},
            "text": {"field": "t"}
          }
        },
        {
          "data": {"values": [{"i": 8.36, "v": -5670, "t": "The World of Financial Freedom"}]},
          "mark": {"type": "text", "align": "left", "baseline": "alphabetic", "fontSize": 17, "font": "Liberation Sans", "fontWeight": "bold", "color": "#22a3dc"},
          "encoding": {
            "x": {"field": "i", "type": "quantitative"},
            "y": {"field": "v", "type": "quantitative"},
            "text": {"field": "t"}
          }
        }
      ]
    }
  ]
}
